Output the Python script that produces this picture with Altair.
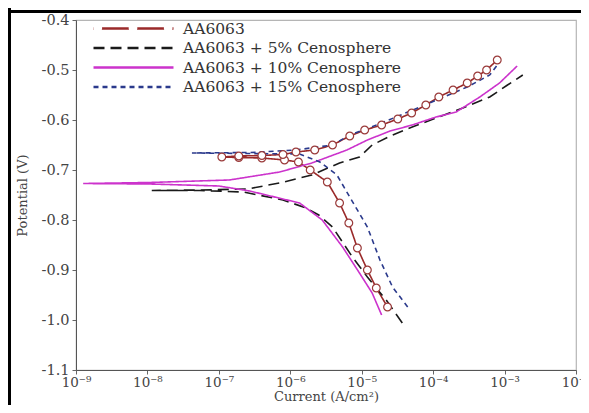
import altair as alt
import pandas as pd

names = ["AA6063", "AA6063 + 5% Cenosphere", "AA6063 + 10% Cenosphere", "AA6063 + 15% Cenosphere"]
colors = ["#9a2a2a", "#1a1a1a", "#cc33cc", "#2b3a8c"]
dashes = [[1, 0], [11, 6], [1, 0], [5, 4]]

# AA6063 (cathodic branch from bottom, through Ecorr, then anodic branch)
aa_i = [2.3e-5, 1.6e-5, 1.2e-5, 8.7e-6, 6.6e-6, 4.9e-6, 3.3e-6, 1.9e-6, 1.3e-6, 8.3e-7, 4.0e-7, 1.9e-7, 1.1e-7,
        1.9e-7, 4.0e-7, 7.9e-7, 1.2e-6, 2.2e-6, 3.9e-6, 6.8e-6, 1.1e-5, 1.9e-5, 3.2e-5, 5.0e-5, 7.9e-5,
        1.2e-4, 1.9e-4, 3.0e-4, 4.2e-4, 5.6e-4, 7.9e-4]
aa_e = [-0.974, -0.936, -0.900, -0.856, -0.806, -0.766, -0.724, -0.700, -0.684, -0.680, -0.676, -0.675, -0.674,
        -0.672, -0.671, -0.669, -0.664, -0.660, -0.650, -0.632, -0.620, -0.610, -0.598, -0.586, -0.570,
        -0.554, -0.540, -0.526, -0.512, -0.500, -0.480]

# AA6063 + 5% Cenosphere
c5_i = [3.7e-5, 2.2e-5, 1.2e-5, 7.4e-6, 3.9e-6, 2.5e-6, 1.6e-6, 7.9e-7, 2.2e-7, 5.4e-8, 1.15e-8,
        5.4e-8, 2.5e-7, 7.1e-7, 2.0e-6, 4.9e-6, 9.3e-6, 1.4e-5, 2.5e-5, 5.1e-5, 1.1e-4, 2.6e-4, 6.2e-4,
        1.1e-3, 1.8e-3]
c5_e = [-1.006, -0.960, -0.914, -0.874, -0.814, -0.790, -0.775, -0.760, -0.744, -0.741, -0.741,
        -0.740, -0.738, -0.726, -0.710, -0.686, -0.674, -0.650, -0.632, -0.614, -0.596, -0.576, -0.554,
        -0.530, -0.510]

# AA6063 + 10% Cenosphere
c10_i = [1.9e-5, 1.4e-5, 9.3e-6, 5.4e-6, 2.8e-6, 1.35e-6, 7.9e-7, 2.7e-7, 1.0e-7, 1.07e-8, 1.26e-9,
         1.07e-8, 1.4e-7, 7.1e-7, 2.0e-6, 6.2e-6, 1.2e-5, 2.5e-5, 5.1e-5, 1.1e-4, 2.1e-4, 4.5e-4, 8.5e-4,
         1.5e-3]
c10_e = [-0.990, -0.946, -0.906, -0.854, -0.800, -0.766, -0.758, -0.742, -0.732, -0.728, -0.727,
         -0.725, -0.720, -0.704, -0.686, -0.660, -0.640, -0.622, -0.610, -0.594, -0.584, -0.554, -0.526,
         -0.492]

# AA6063 + 15% Cenosphere
c15_i = [4.4e-5, 2.7e-5, 1.8e-5, 1.2e-5, 6.8e-6, 4.5e-6, 2.6e-6, 1.35e-6, 2.7e-7, 4.2e-8,
         2.7e-7, 1.2e-6, 3.9e-6, 6.8e-6, 1.9e-5, 8.9e-5, 3.0e-4, 6.2e-4, 8.5e-4]
c15_e = [-0.974, -0.934, -0.880, -0.814, -0.754, -0.710, -0.684, -0.668, -0.667, -0.666,
         -0.665, -0.660, -0.650, -0.630, -0.606, -0.566, -0.534, -0.510, -0.484]

x_ticks = [1e-9, 1e-8, 1e-7, 1e-6, 1e-5, 1e-4, 1e-3, 1e-2]
y_ticks = [-0.4, -0.5, -0.6, -0.7, -0.8, -0.9, -1.0, -1.1]

rows = []
for name, cur, pot in zip(names, [aa_i, c5_i, c10_i, c15_i], [aa_e, c5_e, c10_e, c15_e]):
    for k, (c, p) in enumerate(zip(cur, pot)):
        rows.append({"series": name, "idx": k, "current": c, "potential": p})
df = pd.DataFrame(rows)

sup = ["⁰", "¹", "²", "³", "⁴", "⁵", "⁶", "⁷", "⁸", "⁹"]
sup_expr = "[" + ",".join("'" + s + "'" for s in sup) + "]"
x_label_expr = "'10⁻' + " + sup_expr + "[round(-log(datum.value)/LN10)]"

FONT = "DejaVu Serif"
CIRCLE_STROKE = "#9a3a3a"

# legend glyphs (unit coordinates, scaled by the legend symbol size)
line_glyph = "M-5,0H5"
r = 0.55
circ_glyph = " ".join(
    f"M{cx - r},0 A{r},{r} 0 1,0 {cx + r},0 A{r},{r} 0 1,0 {cx - r},0 Z" for cx in [-4.4, 0.0, 4.4]
)

xaxis = alt.Axis(values=x_ticks, labelExpr=x_label_expr, grid=False, labelFont=FONT, labelFontSize=13.5,
                 labelColor="#444", tickSize=4, tickColor="#666", domainColor="#555", labelPadding=1,
                 titleFont=FONT, titleFontSize=13, titleFontWeight="normal", titleColor="#444",
                 titlePadding=2, labelFlush=False)
yaxis = alt.Axis(values=y_ticks, labelExpr="replace(format(datum.value, '.1f'), '−', '-')", grid=False,
                 labelFont=FONT, labelFontSize=14.5, labelColor="#444", tickSize=4, tickColor="#666",
                 domainColor="#555", labelPadding=3, titleFont=FONT, titleFontSize=13,
                 titleFontWeight="normal", titleColor="#444", titlePadding=12)

LEG_X, LEG_Y = 48, -1
LEG_FS = 15.5
legend = alt.Legend(title=None, orient="none", legendX=LEG_X, legendY=LEG_Y, symbolType=line_glyph,
                    symbolSize=256, symbolStrokeWidth=2.5, labelFont=FONT, labelFontSize=LEG_FS,
                    labelColor="#333", rowPadding=1.5, padding=0, labelOffset=40, labelLimit=0)

marker_legend_def = alt.Legend(
    title=None, orient="none", legendX=LEG_X, legendY=LEG_Y, symbolSize=256, symbolOpacity=1,
    symbolFillColor="white", symbolStrokeColor=CIRCLE_STROKE, symbolStrokeWidth=1.3,
    labelFont=FONT, labelFontSize=LEG_FS, labelOpacity=0, padding=0, labelOffset=40, labelLimit=0,
)

xscale = alt.Scale(type="log", domain=[1e-9, 1e-2])
yscale = alt.Scale(domain=[-1.1, -0.4], nice=False, zero=False)

lines = alt.Chart(df).mark_line(strokeWidth=1.6, clip=True).encode(
    x=alt.X("current:Q", scale=xscale, axis=xaxis, title="Current (A/cm²)"),
    y=alt.Y("potential:Q", scale=yscale, axis=yaxis, title="Potential (V)"),
    color=alt.Color("series:N", scale=alt.Scale(domain=names, range=colors), legend=legend),
    strokeDash=alt.StrokeDash("series:N", scale=alt.Scale(domain=names, range=dashes), legend=legend),
    order="idx:Q",
)

points = alt.Chart(df).transform_filter(alt.datum.series == names[0]).mark_point(
    shape="circle", filled=True, fill="white", stroke=CIRCLE_STROKE, strokeWidth=1.2, size=60, opacity=1
).encode(
    x=alt.X("current:Q", scale=xscale),
    y=alt.Y("potential:Q", scale=yscale),
)

# layer with no rows of its own: it only provides the circle glyphs of the first legend entry
marker_legend = alt.Chart(df).transform_filter(alt.datum.idx < 0).transform_calculate(
    marker="datum.series"
).mark_point(filled=True, fill="white", stroke=CIRCLE_STROKE, strokeWidth=1.3, opacity=1).encode(
    x=alt.X("current:Q", scale=xscale),
    y=alt.Y("potential:Q", scale=yscale),
    shape=alt.Shape("marker:N", scale=alt.Scale(domain=[names[0]], range=[circ_glyph]),
                    legend=marker_legend_def),
)

deco = pd.DataFrame({"k": [0]})
top_rule = alt.Chart(deco).mark_rule(color="black", strokeWidth=3).encode(
    x=alt.value(-68), x2=alt.value(510), y=alt.value(-8.5))
left_rule = alt.Chart(deco).mark_rule(color="black", strokeWidth=6).encode(
    x=alt.value(-68), y=alt.value(-12), y2=alt.value(400))

chart = alt.layer(lines, points, marker_legend, top_rule, left_rule).properties(
    width=500, height=350,
    autosize=alt.AutoSizeParams(type="none"),
    padding={"left": 68, "top": 12, "right": 5, "bottom": 35},
).resolve_legend(shape="independent").configure_view(stroke="#b5b5b5", strokeWidth=1.2)

chart.save("out.html", embed_options={"renderer": "svg", "actions": False})
